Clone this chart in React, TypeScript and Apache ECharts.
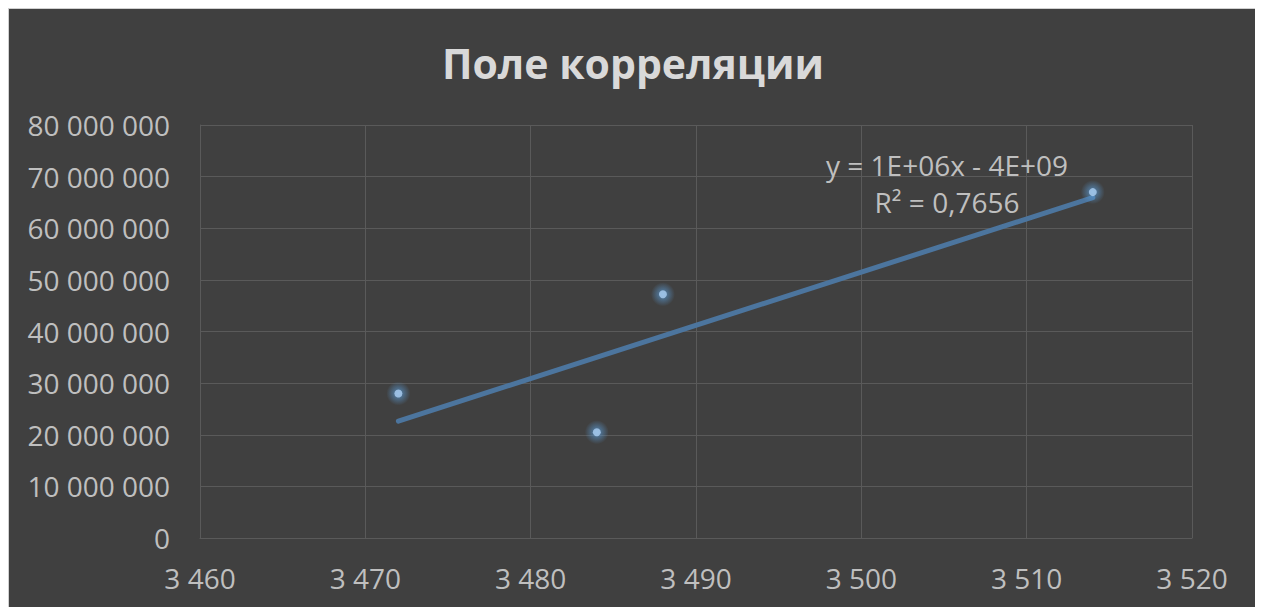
import React, { useEffect, useRef } from "react";
import * as echarts from "echarts";

const titleText = "Поле корреляции";
const xValues = [3472, 3484, 3488, 3514];
const yValues = [28000000, 20500000, 47200000, 67000000];
const equationLine = "y = 1E+06x - 4E+09";
const r2Line = "R² = 0,7656";

const fmt = (v: number) => String(Math.round(v)).replace(/\B(?=(\d{3})+(?!\d))/g, " ");

function regression(xs: number[], ys: number[]) {
  const n = xs.length;
  const mx = xs.reduce((a, b) => a + b, 0) / n;
  const my = ys.reduce((a, b) => a + b, 0) / n;
  let sxy = 0;
  let sxx = 0;
  for (let i = 0; i < n; i++) {
    sxy += (xs[i] - mx) * (ys[i] - my);
    sxx += (xs[i] - mx) * (xs[i] - mx);
  }
  const slope = sxy / sxx;
  return { slope, intercept: my - slope * mx };
}

export default function App() {
  const ref = useRef<HTMLDivElement>(null);
  useEffect(() => {
    if (!ref.current) return;
    const chart = echarts.init(ref.current, undefined, { renderer: "svg" });
    const { slope, intercept } = regression(xValues, yValues);
    const xMin = Math.min(...xValues);
    const xMax = Math.max(...xValues);
    const trend = [
      [xMin, slope * xMin + intercept],
      [xMax, slope * xMax + intercept],
    ];
    const points = xValues.map((x, i) => [x, yValues[i]]);
    const font = "'Open Sans', 'Liberation Sans', sans-serif";
    chart.setOption({
      animation: false,
      backgroundColor: "#404040",
      textStyle: { fontFamily: font },
      title: {
        text: titleText,
        left: "center",
        top: 28,
        textStyle: { color: "#d9d9d9", fontSize: 41, fontWeight: "bold", fontFamily: font },
      },
      grid: { left: 191, top: 116, right: 65, bottom: 81, containLabel: false },
      xAxis: {
        type: "value",
        min: 3460,
        max: 3520,
        interval: 10,
        axisLine: { show: true, lineStyle: { color: "#5a5a5a", width: 1 } },
        axisTick: { show: false },
        splitLine: { show: true, lineStyle: { color: "#5a5a5a", width: 1 } },
        axisLabel: { color: "#bfbfbf", fontSize: 28, margin: 26, formatter: (v: number) => fmt(v) },
      },
      yAxis: {
        type: "value",
        min: 0,
        max: 80000000,
        interval: 10000000,
        axisLine: { show: true, lineStyle: { color: "#5a5a5a", width: 1 } },
        axisTick: { show: false },
        splitLine: { show: true, lineStyle: { color: "#5a5a5a", width: 1 } },
        axisLabel: { color: "#bfbfbf", fontSize: 28, margin: 30, formatter: (v: number) => fmt(v) },
      },
      series: [
        {
          type: "line",
          data: trend,
          symbol: "none",
          lineStyle: { color: "#4c759e", width: 5, cap: "round" },
          z: 2,
        },
        {
          type: "scatter",
          data: points,
          symbol: "circle",
          symbolSize: 24,
          silent: true,
          itemStyle: {
            color: new echarts.graphic.RadialGradient(0.5, 0.5, 0.5, [
              { offset: 0, color: "rgba(91,155,213,0.95)" },
              { offset: 0.4, color: "rgba(91,155,213,0.6)" },
              { offset: 1, color: "rgba(91,155,213,0)" },
            ]),
          },
          z: 3,
        },
        {
          type: "scatter",
          data: points,
          symbol: "circle",
          symbolSize: 8,
          itemStyle: { color: "#acd0f2" },
          z: 4,
        },
      ],
      graphic: [
        {
          type: "text",
          x: 938,
          y: 174,
          style: {
            text: equationLine + "\n" + r2Line,
            fill: "#bfbfbf",
            font: `28px ${font}`,
            align: "center",
            verticalAlign: "middle",
            lineHeight: 37,
          },
          z: 10,
        },
      ],
    });
    return () => chart.dispose();
  }, []);
  return (
    <div
      style={{
        width: 1248,
        height: 610,
        border: "1px solid #d0d0d0",
        background: "#404040",
      }}
    >
      <div ref={ref} style={{ width: 1248, height: 610 }} />
    </div>
  );
}
